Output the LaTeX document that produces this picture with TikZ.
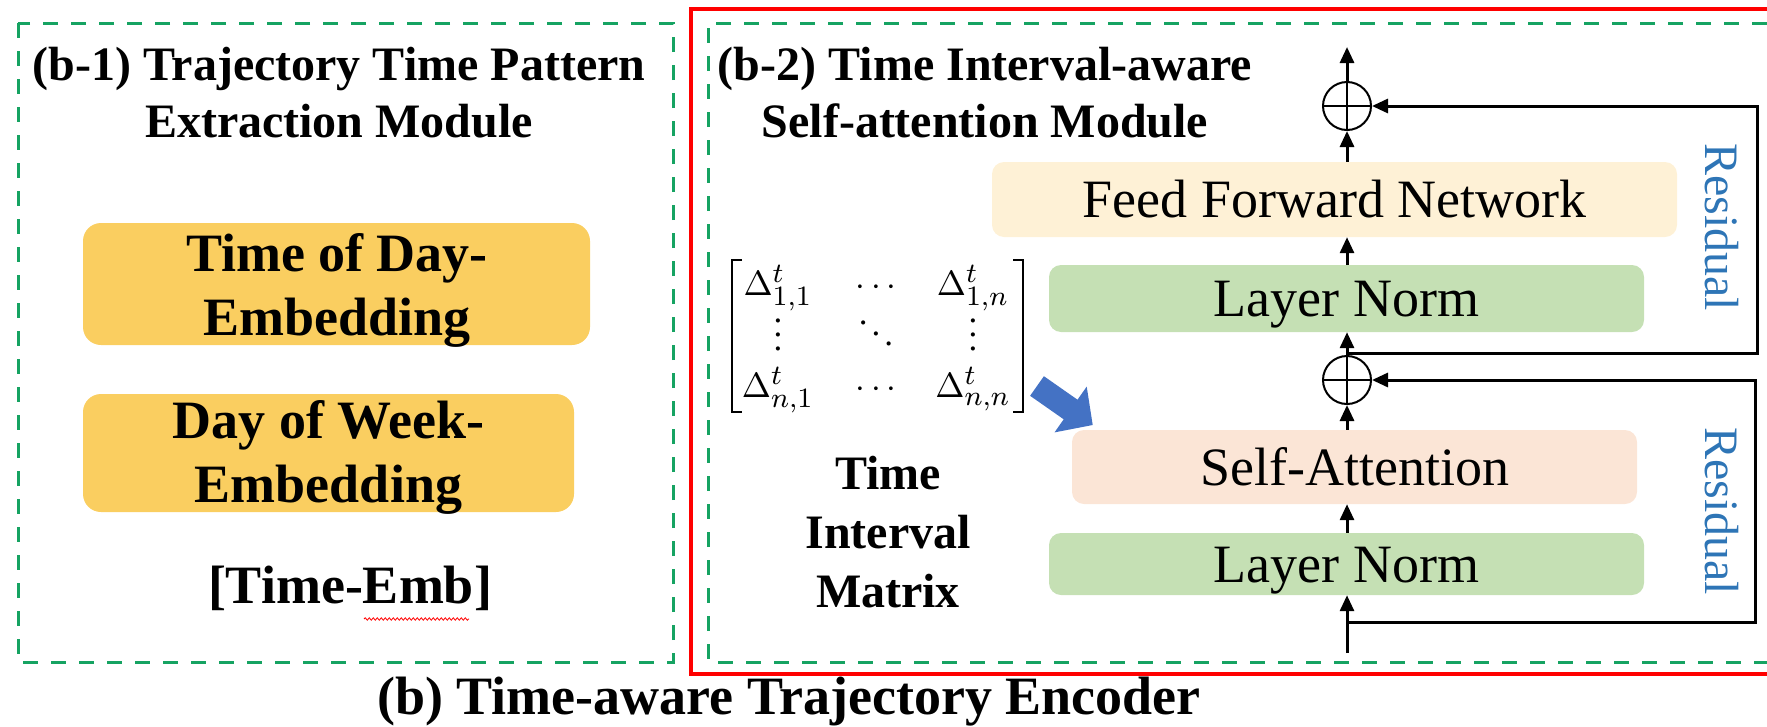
\documentclass[tikz,border=0pt]{standalone}
\usepackage[no-math]{fontspec}
\setmainfont{Liberation Serif}
\DeclareMathSizes{10}{10}{8}{6}
\usetikzlibrary{arrows.meta,decorations.pathmorphing}
\definecolor{gdash}{RGB}{22,163,98}
\definecolor{ygold}{RGB}{250,206,96}
\definecolor{ffnfill}{RGB}{254,241,214}
\definecolor{lnfill}{RGB}{197,224,180}
\definecolor{safill}{RGB}{251,229,214}
\definecolor{resblue}{RGB}{46,117,182}
\definecolor{arrblue}{RGB}{68,114,196}
\tikzset{
  gbox/.style={draw=gdash, line width=3pt, dash pattern=on 15pt off 13pt},
  redbox/.style={draw=red, line width=4pt},
  ybox/.style={fill=ygold, rounded corners=18pt, inner sep=0pt},
  blk/.style={rounded corners=12pt, inner sep=0pt, text height=36pt, text depth=0pt, font=\fontsize{54}{64}\selectfont},
  conn/.style={line width=3pt, -{Triangle[length=16pt,width=14pt]}},
  opl/.style={circle, draw, line width=2pt, minimum size=48pt, inner sep=0pt},
  btitle/.style={font=\bfseries\fontsize{48}{57}\selectfont, anchor=base, inner sep=0pt},
  bbig/.style={font=\bfseries\fontsize{54}{64}\selectfont, anchor=base, inner sep=0pt},
  resid/.style={text=resblue, rotate=-90, font=\fontsize{48}{57}\selectfont, text height=32pt, text depth=0pt, inner sep=0pt},
  ment/.style={font=\fontsize{10}{12}\selectfont, inner sep=0pt, scale=3.5, transform shape},
  vdot/.style={ment, text height=9.2pt, text depth=0pt},
  ddot/.style={ment, text height=8.2pt, text depth=0pt},
  brk/.style={line width=2.5pt},
}
\begin{document}
\begin{tikzpicture}[x=1pt,y=-1pt]
\useasboundingbox (0,0) rectangle (1767,726);

% frames
\draw[gbox] (18,23) rectangle (673,662);
\draw[redbox] (1767,9) -- (691,9) -- (691,674) -- (1767,674);
\draw[gbox] (1767,23) -- (708,23) -- (708,662) -- (1767,662);

% left panel
\node[btitle] (lt) at (339,80) {\begin{tabular}[t]{@{}c@{}}(b-1) Trajectory Time Pattern\\Extraction Module\end{tabular}};
\node[ybox, minimum width=507pt, minimum height=122pt] (tod) at (336.5,284) {};
\node[bbig] (todt) at (337,271) {\begin{tabular}[t]{@{}c@{}}Time of Day-\\Embedding\end{tabular}};
\node[ybox, minimum width=491pt, minimum height=118pt] (dow) at (328.5,453) {};
\node[bbig] (dowt) at (328.5,438) {\begin{tabular}[t]{@{}c@{}}Day of Week-\\Embedding\end{tabular}};
\node[bbig] (emb) at (350,603) {[Time-Emb]};
\draw[red, line width=0.8pt, decorate, decoration={snake, amplitude=1.2pt, segment length=4pt}] (364,619) -- (469,619);

% right panel title
\node[btitle] (rt) at (985,80) {\begin{tabular}[t]{@{}c@{}}(b-2) Time Interval-aware\\Self-attention Module\end{tabular}};

% matrix
\draw[brk] (742,260) -- (732,260) -- (732,412) -- (742,412);
\draw[brk] (1013,260) -- (1023,260) -- (1023,412) -- (1013,412);
\node[ment, anchor=base] (m11) at (778,295) {$\Delta^{t}_{1,1}$};
\node[ment, anchor=base] (m12) at (876,295) {$\cdots$};
\node[ment, anchor=base] (m13) at (973,295) {$\Delta^{t}_{1,n}$};
\node[vdot] (m21) at (778,334) {$\vdots$};
\node[ddot] (m22) at (876,335) {$\ddots$};
\node[vdot] (m23) at (973,334) {$\vdots$};
\node[ment, anchor=base] (m31) at (778,397) {$\Delta^{t}_{n,1}$};
\node[ment, anchor=base] (m32) at (876,397) {$\cdots$};
\node[ment, anchor=base] (m33) at (973,397) {$\Delta^{t}_{n,n}$};
\node[font=\bfseries\fontsize{48}{59}\selectfont, anchor=base, inner sep=0pt] (tim) at (888,489) {\begin{tabular}[t]{@{}c@{}}Time\\Interval\\Matrix\end{tabular}};

% blue block arrow
\fill[arrblue] (1043.9,376.2) -- (1077.5,399.7) -- (1086.7,386.6) -- (1092.7,425.0) -- (1054.5,432.4) -- (1063.7,419.3) -- (1030.1,395.8) -- cycle;

% blocks
\node[blk, fill=ffnfill, minimum width=685pt, minimum height=75pt] (ffn) at (1334.5,199.5) {Feed Forward Network};
\node[blk, fill=lnfill, minimum width=595pt, minimum height=67pt] (ln1) at (1346.5,298.5) {Layer Norm};
\node[blk, fill=safill, minimum width=565pt, minimum height=74pt] (sa) at (1354.5,467) {Self-Attention};
\node[blk, fill=lnfill, minimum width=595pt, minimum height=62pt] (ln2) at (1346.5,564) {Layer Norm};

% add circles
\node[opl] (c1) at (1347,106) {};
\draw[line width=2pt] ([yshift=-2pt]c1.north) -- ([yshift=2pt]c1.south) ([xshift=2pt]c1.west) -- ([xshift=-2pt]c1.east);
\node[opl] (c2) at (1347,380) {};
\draw[line width=2pt] ([yshift=-2pt]c2.north) -- ([yshift=2pt]c2.south) ([xshift=2pt]c2.west) -- ([xshift=-2pt]c2.east);

% connectors
\coordinate (out) at (1347,47);
\coordinate (in) at (1347,653);
\coordinate (j1) at (1347,353);
\coordinate (j2) at (1347,622);
\coordinate (rc1) at (1757,106);
\coordinate (rc2) at (1755,380);
\draw[conn] (c1.north) -- (out);
\draw[conn] (ffn.north -| c1) -- (c1.south);
\draw[conn] (ln1.north -| c1) -- (ffn.south -| c1);
\draw[conn] (c2.north) -- (ln1.south -| c2);
\draw[conn] (sa.north -| c2) -- (c2.south);
\draw[conn] (ln2.north -| c2) -- (sa.south -| c2);
\draw[conn] (in) -- (ln2.south -| c2);
\draw[conn] (j1) -| (rc1) -- (c1.east);
\draw[conn] (j2) -| (rc2) -- (c2.east);

\node[resid] (res1) at (1721,227) {Residual};
\node[resid] (res2) at (1721,511) {Residual};

% caption
\node[bbig] (cap) at (789,714) {(b) Time-aware Trajectory Encoder};
\end{tikzpicture}
\end{document}
